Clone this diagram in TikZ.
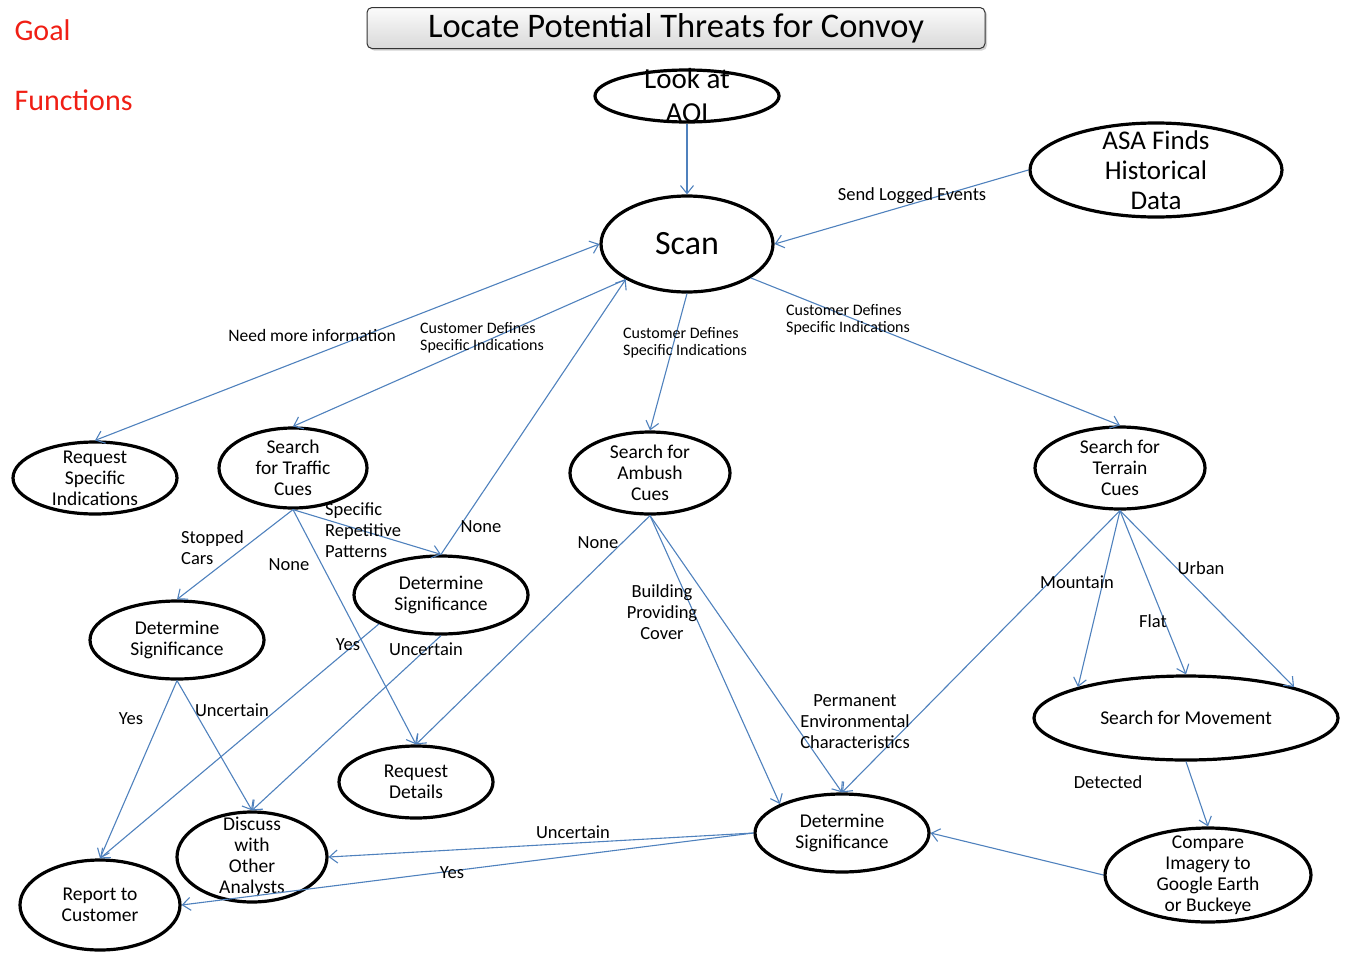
\documentclass[tikz,border=0pt]{standalone}
\usepackage{fontspec}
\setmainfont{Carlito}
\usetikzlibrary{positioning, shapes.geometric, arrows.meta, shadows}

\definecolor{linkblue}{RGB}{79,129,189}
\definecolor{goalred}{RGB}{240,30,20}

\begin{document}
\begin{tikzpicture}[
    x=1pt, y=-1pt,
    >={Straight Barb[length=8pt, width=13pt]},
    every node/.style={font=\fontsize{19.5}{21}\selectfont},
    task/.style={ellipse, draw=black, line width=3.2pt, align=center, inner xsep=0pt, inner ysep=-6pt},
    titlebox/.style={rectangle, rounded corners=5pt, draw=black!80, line width=1pt, top color=gray!3, bottom color=gray!30, drop shadow={opacity=0.35, shadow xshift=2pt, shadow yshift=-2pt}, minimum width=618pt, minimum height=41pt, font=\fontsize{34.5}{38}\selectfont},
    heading/.style={text=goalred, anchor=west, font=\fontsize{30}{34}\selectfont},
    arrow/.style={->, draw=linkblue, line width=1.1pt},
    twoway/.style={<->, draw=linkblue, line width=1.1pt},
    lbl/.style={align=center, inner sep=0pt, font=\fontsize{18.5}{21}\selectfont},
    cdlbl/.style={align=left, anchor=west, inner sep=0pt, font=\fontsize{16}{17}\selectfont},
]
\useasboundingbox (0,0) rectangle (1346,953);

% Goal and headings
\node[titlebox] (goal) at (676,28) {Locate Potential Threats for Convoy};
\node[heading] (goalhd) at (11,30) {Goal};
\node[heading] (funchd) at (11,100) {Functions};

% Top functions
\node[task, minimum width=184pt, minimum height=52pt, inner ysep=-16pt, font=\fontsize{29}{34}\selectfont] (aoi) at (687,96) {Look at\\AOI};
\node[task, minimum width=172pt, minimum height=96pt, font=\fontsize{34}{38}\selectfont] (scan) at (687,244) {Scan};
\node[task, minimum width=252pt, minimum height=94pt, inner ysep=-13pt, font=\fontsize{27}{30}\selectfont] (asa) at (1156,170) {ASA Finds\\Historical\\Data};

% Search functions
\node[task, minimum width=164pt, minimum height=72pt] (reqspec) at (95,478) {Request\\Specific\\Indications};
\node[task, minimum width=148pt, minimum height=80pt] (traffic) at (293,468) {Search\\for Traffic\\Cues};
\node[task, minimum width=160pt, minimum height=82pt] (ambush) at (650,473) {Search for\\Ambush\\Cues};
\node[task, minimum width=170pt, minimum height=82pt] (terrain) at (1120,468) {Search for\\Terrain\\Cues};

% Lower functions
\node[task, minimum width=174pt, minimum height=78pt] (detsig1) at (177,640) {Determine\\Significance};
\node[task, minimum width=174pt, minimum height=78pt] (detsig2) at (441,595) {Determine\\Significance};
\node[task, minimum width=154pt, minimum height=72pt] (reqdet) at (416,782) {Request\\Details};
\node[task, minimum width=150pt, minimum height=90pt, inner ysep=-13pt] (discuss) at (252,857) {Discuss\\with\\Other\\Analysts};
\node[task, minimum width=160pt, minimum height=90pt] (report) at (100,905) {Report to\\Customer};
\node[task, minimum width=174pt, minimum height=78pt] (detsig3) at (842,833) {Determine\\Significance};
\node[task, minimum width=304pt, minimum height=84pt] (movement) at (1186,718) {Search for Movement};
\node[task, minimum width=206pt, minimum height=94pt, inner ysep=-11pt] (compare) at (1208,875) {Compare\\Imagery to\\Google Earth\\or Buckeye};

% Connectors
\draw[arrow] (aoi.south) -- (scan.north);
\draw[arrow] (asa.west) -- (scan.east);
\draw[twoway] (reqspec.north) -- (scan.west);
\draw[arrow] (scan.210) -- (traffic.north);
\draw[arrow] (detsig2.north) -- (scan.210);
\draw[arrow] (scan.south) -- (ambush.north);
\draw[arrow] (scan.332) -- (terrain.north);
\draw[arrow] (traffic.south) -- (detsig1.north);
\draw[arrow] (traffic.south) -- (detsig2.north);
\draw[arrow] (traffic.south) -- (reqdet.north);
\draw[arrow] (detsig2.205) -- (report.north);
\draw[arrow] (detsig2.south) -- (discuss.north);
\draw[arrow] (detsig1.south) -- (report.north);
\draw[arrow] (detsig1.south) -- (discuss.north);
\draw[arrow] (ambush.south) -- (reqdet.north);
\draw[arrow] (ambush.south) -- (detsig3.155);
\draw[arrow] (ambush.south) -- (detsig3.north);
\draw[arrow] (terrain.south) -- (detsig3.north);
\draw[arrow] (terrain.south) -- (movement.164);
\draw[arrow] (terrain.south) -- (movement.north);
\draw[arrow] (terrain.south) -- (movement.16);
\draw[arrow] (movement.south) -- (compare.north);
\draw[arrow] (compare.west) -- (detsig3.east);
\draw[arrow] (detsig3.west) -- (discuss.east);
\draw[arrow] (detsig3.west) -- (report.east);

% Connector labels
\node[lbl] (sendlbl) at (912,196) {Send Logged Events};
\node[lbl, font=\fontsize{17.5}{21}\selectfont] (needlbl) at (312,335) {Need more information};
\node[cdlbl] (cdleft) at (420,338) {Customer Defines\\Specific Indications};
\node[cdlbl] (cdmid) at (623,343) {Customer Defines\\Specific Indications};
\node[cdlbl] (cdright) at (786,320) {Customer Defines\\Specific Indications};
\node[lbl, align=left, anchor=west] (stoplbl) at (181,548) {Stopped\\Cars};
\node[lbl, align=left, anchor=west] (replbl) at (325,530) {Specific\\Repetitive\\Patterns};
\node[lbl] (nonetr) at (289,565) {None};
\node[lbl] (nonesc) at (481,527) {None};
\node[lbl] (yes2) at (348,645) {Yes};
\node[lbl] (unc2) at (426,649) {Uncertain};
\node[lbl] (yes1) at (131,719) {Yes};
\node[lbl] (unc1) at (232,710) {Uncertain};
\node[lbl] (noneam) at (598,543) {None};
\node[lbl] (bldlbl) at (662,612) {Building\\Providing\\Cover};
\node[lbl] (permlbl) at (855,722) {Permanent\\Environmental\\Characteristics};
\node[lbl] (mtnlbl) at (1077,582) {Mountain};
\node[lbl] (flatlbl) at (1153,621) {Flat};
\node[lbl] (urblbl) at (1201,568) {Urban};
\node[lbl] (detlbl) at (1108,782) {Detected};
\node[lbl] (unc3) at (573,832) {Uncertain};
\node[lbl] (yes3) at (452,873) {Yes};

\end{tikzpicture}
\end{document}
